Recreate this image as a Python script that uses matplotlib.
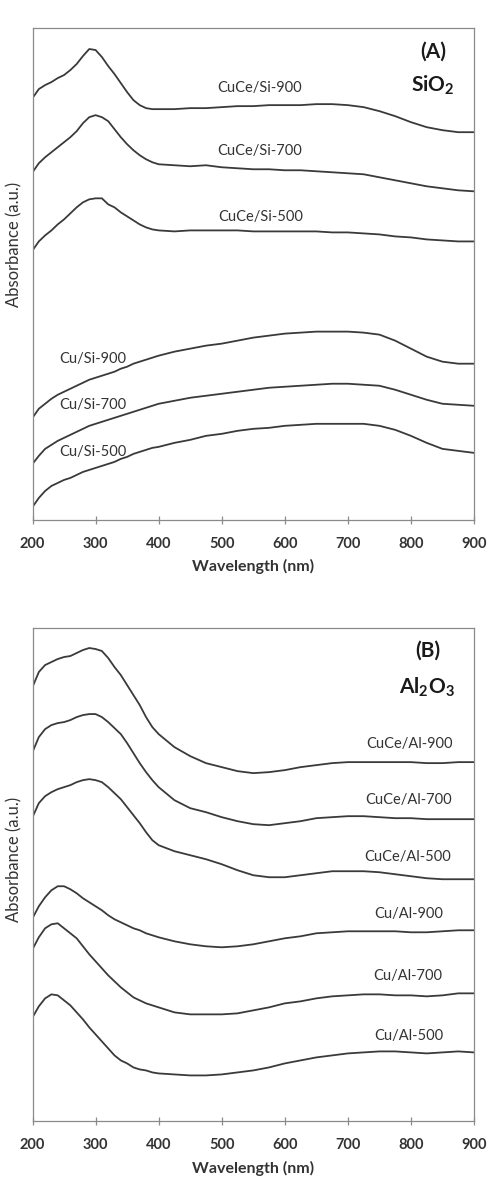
import matplotlib
matplotlib.use("Agg")
import matplotlib.pyplot as plt

plt.rcParams['font.family'] = ['Lato', 'DejaVu Sans']
plt.rcParams['mathtext.fontset'] = 'custom'
plt.rcParams['mathtext.rm'] = 'Lato'
plt.rcParams['mathtext.bf'] = 'Lato:bold'

# wavelength grid (nm) the spectra were read at
wl = [200, 210, 220, 230, 240, 250, 260, 270, 280, 290, 300, 310, 320, 330, 340, 350, 360, 370, 380, 390, 400,
      425, 450, 475, 500, 525, 550, 575, 600, 625, 650, 675, 700, 725, 750, 775, 800, 825, 850, 875, 900]

# (A) SiO2 supported samples, stacked absorbance (a.u.)
cuce_si_900 = [4.21, 4.30, 4.34, 4.37, 4.41, 4.44, 4.49, 4.55, 4.63, 4.70, 4.69, 4.62, 4.53, 4.45, 4.36, 4.27, 4.19, 4.14, 4.11, 4.10, 4.10,
               4.10, 4.11, 4.11, 4.12, 4.13, 4.13, 4.14, 4.14, 4.14, 4.15, 4.15, 4.14, 4.12, 4.08, 4.03, 3.97, 3.92, 3.89, 3.87, 3.87]
cuce_si_700 = [3.47, 3.56, 3.62, 3.67, 3.72, 3.77, 3.82, 3.88, 3.96, 4.02, 4.04, 4.02, 3.98, 3.90, 3.82, 3.75, 3.69, 3.64, 3.60, 3.57, 3.55,
               3.54, 3.53, 3.54, 3.52, 3.51, 3.50, 3.50, 3.49, 3.49, 3.48, 3.47, 3.46, 3.45, 3.42, 3.39, 3.36, 3.33, 3.31, 3.29, 3.28]
cuce_si_500 = [2.69, 2.78, 2.84, 2.89, 2.95, 3.00, 3.06, 3.12, 3.17, 3.20, 3.21, 3.21, 3.15, 3.12, 3.07, 3.03, 2.99, 2.95, 2.92, 2.90, 2.89,
               2.88, 2.89, 2.89, 2.89, 2.89, 2.88, 2.88, 2.88, 2.88, 2.88, 2.87, 2.87, 2.86, 2.85, 2.83, 2.82, 2.80, 2.79, 2.78, 2.78]
cu_si_900 = [1.02, 1.11, 1.16, 1.21, 1.25, 1.28, 1.31, 1.34, 1.37, 1.40, 1.42, 1.44, 1.46, 1.48, 1.51, 1.53, 1.56, 1.58, 1.60, 1.62, 1.64,
             1.68, 1.71, 1.74, 1.76, 1.79, 1.82, 1.84, 1.86, 1.87, 1.88, 1.88, 1.88, 1.87, 1.85, 1.79, 1.71, 1.63, 1.58, 1.56, 1.56]
cu_si_700 = [0.56, 0.64, 0.71, 0.75, 0.79, 0.82, 0.85, 0.88, 0.91, 0.94, 0.96, 0.98, 1.00, 1.02, 1.04, 1.06, 1.08, 1.10, 1.12, 1.14, 1.16,
             1.19, 1.22, 1.24, 1.26, 1.28, 1.30, 1.32, 1.33, 1.34, 1.35, 1.36, 1.36, 1.35, 1.34, 1.30, 1.25, 1.20, 1.16, 1.15, 1.14]
cu_si_500 = [0.13, 0.22, 0.29, 0.34, 0.37, 0.40, 0.42, 0.45, 0.48, 0.50, 0.52, 0.54, 0.56, 0.58, 0.61, 0.63, 0.66, 0.68, 0.70, 0.72, 0.73,
             0.77, 0.80, 0.84, 0.86, 0.89, 0.91, 0.92, 0.94, 0.95, 0.96, 0.96, 0.96, 0.96, 0.94, 0.90, 0.84, 0.77, 0.71, 0.69, 0.67]

# (B) Al2O3 supported samples
cuce_al_900 = [4.34, 4.49, 4.56, 4.59, 4.62, 4.64, 4.65, 4.68, 4.71, 4.73, 4.72, 4.70, 4.63, 4.54, 4.46, 4.36, 4.26, 4.16, 4.04, 3.94, 3.87,
               3.74, 3.65, 3.58, 3.54, 3.50, 3.48, 3.49, 3.51, 3.54, 3.56, 3.58, 3.59, 3.59, 3.59, 3.59, 3.59, 3.58, 3.58, 3.59, 3.59]
cuce_al_700 = [3.69, 3.84, 3.92, 3.96, 3.98, 3.99, 4.01, 4.04, 4.06, 4.07, 4.07, 4.04, 3.99, 3.93, 3.87, 3.78, 3.68, 3.58, 3.49, 3.41, 3.34,
               3.21, 3.13, 3.09, 3.04, 3.00, 2.97, 2.96, 2.98, 3.00, 3.03, 3.04, 3.05, 3.05, 3.04, 3.03, 3.03, 3.02, 3.02, 3.02, 3.02]
cuce_al_500 = [3.04, 3.18, 3.25, 3.29, 3.32, 3.34, 3.36, 3.39, 3.41, 3.42, 3.41, 3.39, 3.34, 3.28, 3.22, 3.14, 3.06, 2.98, 2.89, 2.81, 2.76,
               2.70, 2.66, 2.62, 2.57, 2.51, 2.46, 2.44, 2.44, 2.46, 2.48, 2.50, 2.50, 2.50, 2.49, 2.47, 2.45, 2.43, 2.42, 2.42, 2.42]
cu_al_900 = [2.03, 2.15, 2.24, 2.31, 2.35, 2.35, 2.32, 2.28, 2.23, 2.19, 2.15, 2.11, 2.06, 2.02, 1.99, 1.96, 1.93, 1.91, 1.88, 1.86, 1.84,
             1.80, 1.77, 1.75, 1.74, 1.75, 1.77, 1.80, 1.83, 1.85, 1.88, 1.89, 1.90, 1.90, 1.90, 1.90, 1.89, 1.89, 1.90, 1.91, 1.91]
cu_al_700 = [1.72, 1.84, 1.93, 1.97, 1.98, 1.93, 1.88, 1.83, 1.75, 1.67, 1.60, 1.53, 1.46, 1.40, 1.34, 1.29, 1.24, 1.21, 1.18, 1.16, 1.14,
             1.09, 1.07, 1.07, 1.07, 1.08, 1.11, 1.14, 1.18, 1.20, 1.23, 1.25, 1.26, 1.27, 1.27, 1.26, 1.26, 1.25, 1.26, 1.28, 1.28]
cu_al_500 = [1.04, 1.15, 1.23, 1.27, 1.26, 1.21, 1.16, 1.09, 1.02, 0.94, 0.87, 0.80, 0.73, 0.66, 0.61, 0.58, 0.54, 0.52, 0.51, 0.49, 0.48,
             0.47, 0.46, 0.46, 0.47, 0.49, 0.51, 0.54, 0.58, 0.61, 0.64, 0.66, 0.68, 0.69, 0.70, 0.70, 0.69, 0.68, 0.69, 0.70, 0.69]

xticks = [200, 300, 400, 500, 600, 700, 800, 900]

line_col = '#3a3a3a'
text_col = '#333333'
spine_col = '#8a8a8a'

fig = plt.figure(figsize=(4.91, 11.8), dpi=100)
axA = fig.add_axes([0.0662, 0.5593, 0.8992, 0.4170])
axB = fig.add_axes([0.0662, 0.0496, 0.8992, 0.4182])


def style_axis(ax, ytop):
    ax.set_xlim(200, 900)
    ax.set_ylim(0, ytop)
    ax.set_xticks(xticks)
    ax.set_yticks([])
    for sp in ax.spines.values():
        sp.set_color(spine_col)
        sp.set_linewidth(0.9)
    ax.tick_params(axis='x', direction='inout', length=6, width=0.9, color=spine_col,
                   labelsize=10.5, labelcolor=text_col, pad=9)
    for lab in ax.get_xticklabels():
        lab.set_fontweight('bold')
    ax.set_xlabel('Wavelength (nm)', fontsize=11.5, fontweight='bold', color=text_col, labelpad=6)
    ax.set_ylabel('Absorbance (a.u.)', fontsize=12, color=text_col)


# panel A
for s in [cuce_si_900, cuce_si_700, cuce_si_500, cu_si_900, cu_si_700, cu_si_500]:
    axA.plot(wl, s, color=line_col, lw=1.3)
style_axis(axA, 4.91)
axA.yaxis.set_label_coords(-0.022, 0.56)

kw = dict(fontsize=10.5, color=text_col, ha='center', va='center')
axA.text(560, 4.31, 'CuCe/Si-900', **kw)
axA.text(560, 3.68, 'CuCe/Si-700', **kw)
axA.text(562, 3.02, 'CuCe/Si-500', **kw)
axA.text(295, 1.61, 'Cu/Si-900', **kw)
axA.text(295, 1.15, 'Cu/Si-700', **kw)
axA.text(295, 0.68, 'Cu/Si-500', **kw)
axA.text(835, 4.67, '(A)', fontsize=15, fontweight='bold', color='#1a1a1a', ha='center', va='center')
axA.text(835, 4.34, r'$\mathbf{SiO_2}$', fontsize=15, color='#1a1a1a', ha='center', va='center')

# panel B
for s in [cuce_al_900, cuce_al_700, cuce_al_500, cu_al_900, cu_al_700, cu_al_500]:
    axB.plot(wl, s, color=line_col, lw=1.3)
style_axis(axB, 4.93)
axB.yaxis.set_label_coords(-0.022, 0.53)

axB.text(798, 3.77, 'CuCe/Al-900', **kw)
axB.text(797, 3.21, 'CuCe/Al-700', **kw)
axB.text(794, 2.64, 'CuCe/Al-500', **kw)
axB.text(797, 2.07, 'Cu/Al-900', **kw)
axB.text(795, 1.45, 'Cu/Al-700', **kw)
axB.text(797, 0.85, 'Cu/Al-500', **kw)
axB.text(826, 4.70, '(B)', fontsize=15, fontweight='bold', color='#1a1a1a', ha='center', va='center')
axB.text(826, 4.34, r'$\mathbf{Al_2O_3}$', fontsize=15, color='#1a1a1a', ha='center', va='center')

fig.savefig('out.png', dpi=100)
